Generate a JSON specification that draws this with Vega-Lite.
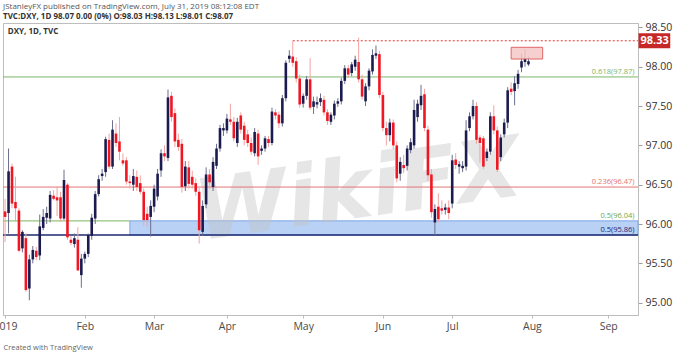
{
  "$schema": "https://vega.github.io/schema/vega-lite/v6.json",
  "autosize": {"type": "none"},
  "width": 635,
  "height": 292,
  "padding": {"left": 3, "top": 23, "right": 41, "bottom": 40},
  "background": "white",
  "config": {
    "view": {"stroke": "#bdbdbd", "strokeWidth": 1},
    "font": "Open Sans"
  },
  "title": {
    "text": "JStanleyFX published on TradingView.com, July 31, 2019 08:12:08 EDT",
    "subtitle": "TVC:DXY, 1D 98.07 0.00 (0%) O:98.03 H:98.13 L:98.01 C:98.07",
    "anchor": "start",
    "frame": "group",
    "offset": 1,
    "font": "Open Sans",
    "fontSize": 8,
    "fontWeight": "normal",
    "color": "#555555",
    "subtitleFont": "Open Sans",
    "subtitleFontSize": 8,
    "subtitleFontWeight": "bold",
    "subtitleColor": "#333333",
    "subtitlePadding": 2
  },
  "datasets": {
    "candles": [
      {"d":"2018-12-31","i":-1,"o":96.16,"h":96.32,"l":95.77,"c":96.09},
      {"d":"2019-01-02","i":0,"o":96.14,"h":96.96,"l":95.88,"c":96.67},
      {"d":"2019-01-03","i":1,"o":96.73,"h":96.77,"l":96.20,"c":96.26},
      {"d":"2019-01-04","i":2,"o":96.28,"h":96.60,"l":96.03,"c":96.20},
      {"d":"2019-01-07","i":3,"o":96.17,"h":96.20,"l":95.64,"c":95.66},
      {"d":"2019-01-08","i":4,"o":95.69,"h":95.92,"l":95.64,"c":95.90},
      {"d":"2019-01-09","i":5,"o":95.82,"h":95.88,"l":95.14,"c":95.16},
      {"d":"2019-01-10","i":6,"o":95.18,"h":95.61,"l":95.03,"c":95.55},
      {"d":"2019-01-11","i":7,"o":95.55,"h":95.72,"l":95.50,"c":95.67},
      {"d":"2019-01-14","i":8,"o":95.66,"h":95.71,"l":95.54,"c":95.58},
      {"d":"2019-01-15","i":9,"o":95.60,"h":96.12,"l":95.54,"c":95.97},
      {"d":"2019-01-16","i":10,"o":95.95,"h":96.19,"l":95.92,"c":96.09},
      {"d":"2019-01-17","i":11,"o":96.08,"h":96.22,"l":96.00,"c":96.14},
      {"d":"2019-01-18","i":12,"o":96.07,"h":96.42,"l":96.02,"c":96.37},
      {"d":"2019-01-21","i":13,"o":96.36,"h":96.43,"l":96.30,"c":96.32},
      {"d":"2019-01-22","i":14,"o":96.34,"h":96.48,"l":96.10,"c":96.30},
      {"d":"2019-01-23","i":15,"o":96.34,"h":96.41,"l":96.03,"c":96.07},
      {"d":"2019-01-24","i":16,"o":96.07,"h":96.69,"l":96.05,"c":96.56},
      {"d":"2019-01-25","i":17,"o":96.50,"h":96.52,"l":95.80,"c":95.83},
      {"d":"2019-01-28","i":18,"o":95.80,"h":95.85,"l":95.73,"c":95.76},
      {"d":"2019-01-29","i":19,"o":95.745,"h":95.88,"l":95.70,"c":95.82},
      {"d":"2019-01-30","i":20,"o":95.80,"h":95.96,"l":95.40,"c":95.41},
      {"d":"2019-01-31","i":21,"o":95.35,"h":95.62,"l":95.19,"c":95.56},
      {"d":"2019-02-01","i":22,"o":95.56,"h":95.65,"l":95.50,"c":95.62},
      {"d":"2019-02-04","i":23,"o":95.62,"h":95.88,"l":95.58,"c":95.86},
      {"d":"2019-02-05","i":24,"o":95.85,"h":96.13,"l":95.80,"c":96.08},
      {"d":"2019-02-06","i":25,"o":96.07,"h":96.42,"l":96.00,"c":96.38},
      {"d":"2019-02-07","i":26,"o":96.38,"h":96.62,"l":96.35,"c":96.57},
      {"d":"2019-02-08","i":27,"o":96.61,"h":96.70,"l":96.55,"c":96.64},
      {"d":"2019-02-11","i":28,"o":96.66,"h":97.11,"l":96.60,"c":97.08},
      {"d":"2019-02-12","i":29,"o":97.07,"h":97.15,"l":96.70,"c":96.73},
      {"d":"2019-02-13","i":30,"o":96.73,"h":97.32,"l":96.70,"c":97.20},
      {"d":"2019-02-14","i":31,"o":97.15,"h":97.28,"l":96.98,"c":97.03},
      {"d":"2019-02-15","i":32,"o":97.05,"h":97.36,"l":96.81,"c":96.92},
      {"d":"2019-02-18","i":33,"o":96.81,"h":96.90,"l":96.74,"c":96.77},
      {"d":"2019-02-19","i":34,"o":96.81,"h":96.85,"l":96.50,"c":96.54},
      {"d":"2019-02-20","i":35,"o":96.54,"h":96.62,"l":96.45,"c":96.52},
      {"d":"2019-02-21","i":36,"o":96.50,"h":96.70,"l":96.42,"c":96.61},
      {"d":"2019-02-22","i":37,"o":96.60,"h":96.68,"l":96.42,"c":96.47},
      {"d":"2019-02-25","i":38,"o":96.52,"h":96.62,"l":96.38,"c":96.41},
      {"d":"2019-02-26","i":39,"o":96.41,"h":96.45,"l":95.98,"c":96.05},
      {"d":"2019-02-27","i":40,"o":96.13,"h":96.22,"l":95.96,"c":96.05},
      {"d":"2019-02-28","i":41,"o":96.09,"h":96.30,"l":95.84,"c":96.23},
      {"d":"2019-03-01","i":42,"o":96.22,"h":96.50,"l":96.15,"c":96.45},
      {"d":"2019-03-04","i":43,"o":96.35,"h":96.70,"l":96.30,"c":96.64},
      {"d":"2019-03-05","i":44,"o":96.68,"h":96.95,"l":96.60,"c":96.90},
      {"d":"2019-03-06","i":45,"o":96.90,"h":97.00,"l":96.80,"c":96.86},
      {"d":"2019-03-07","i":46,"o":96.84,"h":97.71,"l":96.80,"c":97.61},
      {"d":"2019-03-08","i":47,"o":97.63,"h":97.68,"l":97.30,"c":97.36},
      {"d":"2019-03-11","i":48,"o":97.41,"h":97.47,"l":96.98,"c":97.05},
      {"d":"2019-03-12","i":49,"o":97.07,"h":97.15,"l":96.93,"c":96.98},
      {"d":"2019-03-13","i":50,"o":97.02,"h":97.08,"l":96.40,"c":96.47},
      {"d":"2019-03-14","i":51,"o":96.48,"h":96.80,"l":96.42,"c":96.73},
      {"d":"2019-03-15","i":52,"o":96.72,"h":96.80,"l":96.45,"c":96.51},
      {"d":"2019-03-18","i":53,"o":96.60,"h":96.68,"l":96.45,"c":96.50},
      {"d":"2019-03-19","i":54,"o":96.52,"h":96.58,"l":96.36,"c":96.41},
      {"d":"2019-03-20","i":55,"o":96.41,"h":96.47,"l":95.75,"c":95.92},
      {"d":"2019-03-21","i":56,"o":95.90,"h":96.30,"l":95.85,"c":96.23},
      {"d":"2019-03-22","i":57,"o":96.25,"h":96.72,"l":96.20,"c":96.63},
      {"d":"2019-03-25","i":58,"o":96.63,"h":96.70,"l":96.45,"c":96.53},
      {"d":"2019-03-26","i":59,"o":96.47,"h":96.85,"l":96.42,"c":96.79},
      {"d":"2019-03-27","i":60,"o":96.74,"h":97.02,"l":96.70,"c":96.96},
      {"d":"2019-03-28","i":61,"o":96.96,"h":97.26,"l":96.92,"c":97.22},
      {"d":"2019-03-29","i":62,"o":97.19,"h":97.28,"l":97.12,"c":97.22},
      {"d":"2019-04-01","i":63,"o":97.19,"h":97.40,"l":97.15,"c":97.34},
      {"d":"2019-04-02","i":64,"o":97.33,"h":97.53,"l":97.26,"c":97.30},
      {"d":"2019-04-03","i":65,"o":97.30,"h":97.36,"l":97.05,"c":97.09},
      {"d":"2019-04-04","i":66,"o":97.03,"h":97.35,"l":96.98,"c":97.30},
      {"d":"2019-04-05","i":67,"o":97.38,"h":97.42,"l":97.15,"c":97.20},
      {"d":"2019-04-08","i":68,"o":97.25,"h":97.30,"l":97.00,"c":97.07},
      {"d":"2019-04-09","i":69,"o":97.14,"h":97.20,"l":96.98,"c":97.03},
      {"d":"2019-04-10","i":70,"o":97.03,"h":97.10,"l":96.88,"c":96.92},
      {"d":"2019-04-11","i":71,"o":96.90,"h":97.22,"l":96.86,"c":97.17},
      {"d":"2019-04-12","i":72,"o":97.15,"h":97.20,"l":96.75,"c":96.86},
      {"d":"2019-04-15","i":73,"o":96.93,"h":97.00,"l":96.88,"c":96.96},
      {"d":"2019-04-16","i":74,"o":96.96,"h":97.12,"l":96.92,"c":97.09},
      {"d":"2019-04-17","i":75,"o":97.08,"h":97.12,"l":96.98,"c":97.03},
      {"d":"2019-04-18","i":76,"o":97.03,"h":97.48,"l":97.00,"c":97.43},
      {"d":"2019-04-19","i":77,"o":97.42,"h":97.46,"l":97.33,"c":97.38},
      {"d":"2019-04-22","i":78,"o":97.39,"h":97.43,"l":97.22,"c":97.28},
      {"d":"2019-04-23","i":79,"o":97.28,"h":97.64,"l":97.24,"c":97.60},
      {"d":"2019-04-24","i":80,"o":97.60,"h":98.08,"l":97.56,"c":98.05},
      {"d":"2019-04-25","i":81,"o":98.10,"h":98.21,"l":98.05,"c":98.14},
      {"d":"2019-04-26","i":82,"o":98.13,"h":98.33,"l":98.00,"c":98.05},
      {"d":"2019-04-29","i":83,"o":98.07,"h":98.12,"l":97.80,"c":97.85},
      {"d":"2019-04-30","i":84,"o":97.85,"h":97.90,"l":97.48,"c":97.52},
      {"d":"2019-05-01","i":85,"o":97.53,"h":97.66,"l":97.48,"c":97.63},
      {"d":"2019-05-02","i":86,"o":97.63,"h":97.88,"l":97.58,"c":97.84},
      {"d":"2019-05-03","i":87,"o":97.84,"h":98.11,"l":97.45,"c":97.48},
      {"d":"2019-05-06","i":88,"o":97.49,"h":97.62,"l":97.40,"c":97.56},
      {"d":"2019-05-07","i":89,"o":97.52,"h":97.62,"l":97.47,"c":97.55},
      {"d":"2019-05-08","i":90,"o":97.55,"h":97.66,"l":97.50,"c":97.60},
      {"d":"2019-05-09","i":91,"o":97.58,"h":97.63,"l":97.38,"c":97.42},
      {"d":"2019-05-10","i":92,"o":97.42,"h":97.46,"l":97.26,"c":97.31},
      {"d":"2019-05-13","i":93,"o":97.30,"h":97.42,"l":97.26,"c":97.39},
      {"d":"2019-05-14","i":94,"o":97.38,"h":97.57,"l":97.33,"c":97.53},
      {"d":"2019-05-15","i":95,"o":97.53,"h":97.60,"l":97.49,"c":97.56},
      {"d":"2019-05-16","i":96,"o":97.56,"h":97.86,"l":97.52,"c":97.82},
      {"d":"2019-05-17","i":97,"o":97.82,"h":98.02,"l":97.78,"c":97.98},
      {"d":"2019-05-20","i":98,"o":97.98,"h":98.02,"l":97.86,"c":97.90},
      {"d":"2019-05-21","i":99,"o":97.92,"h":98.06,"l":97.88,"c":98.03},
      {"d":"2019-05-22","i":100,"o":98.00,"h":98.14,"l":97.95,"c":98.09},
      {"d":"2019-05-23","i":101,"o":98.06,"h":98.37,"l":97.80,"c":97.84},
      {"d":"2019-05-24","i":102,"o":97.84,"h":97.90,"l":97.58,"c":97.62},
      {"d":"2019-05-27","i":103,"o":97.56,"h":97.79,"l":97.50,"c":97.75},
      {"d":"2019-05-28","i":104,"o":97.75,"h":97.98,"l":97.70,"c":97.95},
      {"d":"2019-05-29","i":105,"o":97.94,"h":98.22,"l":97.90,"c":98.15},
      {"d":"2019-05-30","i":106,"o":98.14,"h":98.27,"l":98.10,"c":98.17},
      {"d":"2019-05-31","i":107,"o":98.16,"h":98.20,"l":97.60,"c":97.64},
      {"d":"2019-06-03","i":108,"o":97.64,"h":97.68,"l":97.18,"c":97.22},
      {"d":"2019-06-04","i":109,"o":97.22,"h":97.30,"l":97.00,"c":97.13},
      {"d":"2019-06-05","i":110,"o":97.13,"h":97.34,"l":97.05,"c":97.29},
      {"d":"2019-06-06","i":111,"o":97.29,"h":97.33,"l":96.95,"c":97.00},
      {"d":"2019-06-07","i":112,"o":97.00,"h":97.05,"l":96.53,"c":96.58},
      {"d":"2019-06-10","i":113,"o":96.64,"h":96.85,"l":96.55,"c":96.79},
      {"d":"2019-06-11","i":114,"o":96.75,"h":96.88,"l":96.65,"c":96.71},
      {"d":"2019-06-12","i":115,"o":96.74,"h":97.00,"l":96.68,"c":96.96},
      {"d":"2019-06-13","i":116,"o":96.94,"h":97.09,"l":96.90,"c":97.04},
      {"d":"2019-06-14","i":117,"o":97.00,"h":97.58,"l":96.96,"c":97.45},
      {"d":"2019-06-17","i":118,"o":97.36,"h":97.58,"l":97.30,"c":97.53},
      {"d":"2019-06-18","i":119,"o":97.51,"h":97.77,"l":97.45,"c":97.63},
      {"d":"2019-06-19","i":120,"o":97.65,"h":97.72,"l":97.18,"c":97.22},
      {"d":"2019-06-20","i":121,"o":97.20,"h":97.25,"l":96.55,"c":96.62},
      {"d":"2019-06-21","i":122,"o":96.63,"h":96.70,"l":96.08,"c":96.15},
      {"d":"2019-06-24","i":123,"o":96.02,"h":96.25,"l":95.86,"c":96.19},
      {"d":"2019-06-25","i":124,"o":96.22,"h":96.39,"l":96.02,"c":96.06},
      {"d":"2019-06-26","i":125,"o":96.20,"h":96.30,"l":96.12,"c":96.17},
      {"d":"2019-06-27","i":126,"o":96.18,"h":96.26,"l":96.12,"c":96.21},
      {"d":"2019-06-28","i":127,"o":96.21,"h":96.30,"l":96.06,"c":96.14},
      {"d":"2019-07-01","i":128,"o":96.26,"h":96.88,"l":96.20,"c":96.81},
      {"d":"2019-07-02","i":129,"o":96.82,"h":96.90,"l":96.70,"c":96.75},
      {"d":"2019-07-03","i":130,"o":96.73,"h":96.80,"l":96.64,"c":96.76},
      {"d":"2019-07-04","i":131,"o":96.71,"h":96.80,"l":96.66,"c":96.74},
      {"d":"2019-07-05","i":132,"o":96.73,"h":97.32,"l":96.68,"c":97.19},
      {"d":"2019-07-08","i":133,"o":97.22,"h":97.42,"l":97.18,"c":97.37},
      {"d":"2019-07-09","i":134,"o":97.37,"h":97.58,"l":97.33,"c":97.50},
      {"d":"2019-07-10","i":135,"o":97.50,"h":97.55,"l":97.02,"c":97.07},
      {"d":"2019-07-11","i":136,"o":97.10,"h":97.13,"l":96.78,"c":97.03},
      {"d":"2019-07-12","i":137,"o":97.09,"h":97.12,"l":96.70,"c":96.73},
      {"d":"2019-07-15","i":138,"o":96.84,"h":96.96,"l":96.80,"c":96.92},
      {"d":"2019-07-16","i":139,"o":96.92,"h":97.42,"l":96.88,"c":97.37},
      {"d":"2019-07-17","i":140,"o":97.37,"h":97.51,"l":97.14,"c":97.19},
      {"d":"2019-07-18","i":141,"o":97.19,"h":97.24,"l":96.66,"c":96.69},
      {"d":"2019-07-19","i":142,"o":96.85,"h":97.14,"l":96.80,"c":97.10},
      {"d":"2019-07-22","i":143,"o":97.14,"h":97.34,"l":97.10,"c":97.29},
      {"d":"2019-07-23","i":144,"o":97.29,"h":97.74,"l":97.22,"c":97.70},
      {"d":"2019-07-24","i":145,"o":97.72,"h":97.80,"l":97.64,"c":97.68},
      {"d":"2019-07-25","i":146,"o":97.69,"h":97.88,"l":97.51,"c":97.79},
      {"d":"2019-07-26","i":147,"o":97.78,"h":97.96,"l":97.72,"c":97.91},
      {"d":"2019-07-29","i":148,"o":97.99,"h":98.17,"l":97.93,"c":98.07},
      {"d":"2019-07-30","i":149,"o":98.06,"h":98.22,"l":98.00,"c":98.11},
      {"d":"2019-07-31","i":150,"o":98.03,"h":98.13,"l":98.01,"c":98.07}
    ]
  },
  "layer": [
    {
      "data": {"values": [{"zone": "0.5 zone", "start": 35, "top": 96.04, "bottom": 95.86}]},
      "mark": {"type": "rect", "fill": "#a8c6f3", "fillOpacity": 0.8, "stroke": "#7ea7e6", "strokeWidth": 1},
      "encoding": {
        "x": {
          "field": "start",
          "type": "quantitative",
          "scale": {"domain": [-1.6, 181.6], "nice": false, "zero": false},
          "axis": {
            "orient": "bottom",
            "values": [-1, 22, 42, 63, 85, 108, 128, 151, 173],
            "labelExpr": "datum.value == -1 ? '2019' : datum.value == 22 ? 'Feb' : datum.value == 42 ? 'Mar' : datum.value == 63 ? 'Apr' : datum.value == 85 ? 'May' : datum.value == 108 ? 'Jun' : datum.value == 128 ? 'Jul' : datum.value == 151 ? 'Aug' : 'Sep'",
            "grid": false,
            "domainColor": "#bdbdbd",
            "tickColor": "#bdbdbd",
            "tickSize": 3,
            "labelPadding": 3,
            "labelFont": "Open Sans",
            "labelFontSize": 10.5,
            "labelColor": "#4a4a4a",
            "labelFlush": false,
            "labelOverlap": false,
            "title": "Created with TradingView",
            "titleAnchor": "start",
            "titleAlign": "left",
            "titleFont": "Open Sans",
            "titleFontSize": 7.5,
            "titleFontWeight": "normal",
            "titleColor": "#666666",
            "titlePadding": 12
          }
        },
        "x2": {"datum": 181.6},
        "y": {
          "field": "top",
          "type": "quantitative",
          "scale": {"domain": [94.843, 98.556], "nice": false, "zero": false},
          "axis": {
            "orient": "right",
            "values": [95, 95.5, 96, 96.5, 97, 97.5, 98, 98.5],
            "format": ".2f",
            "grid": false,
            "domainColor": "#bdbdbd",
            "tickColor": "#9e9e9e",
            "tickSize": 4,
            "labelPadding": 3,
            "labelFont": "Open Sans",
            "labelFontSize": 10.5,
            "labelColor": "#333333",
            "title": null
          }
        },
        "y2": {"field": "bottom"}
      }
    },
    {
      "data": {"values": [{"wm": "WikiFX"}]},
      "mark": {"type": "text", "font": "DejaVu Sans", "fontSize": 84, "fontWeight": "bold", "fontStyle": "italic", "color": "#c4c4c4", "opacity": 0.42, "angle": -8, "align": "center", "baseline": "middle"},
      "encoding": {
        "x": {"datum": 101, "type": "quantitative"},
        "y": {"datum": 96.4, "type": "quantitative"},
        "text": {"field": "wm", "type": "nominal"}
      }
    },
    {
      "data": {"values": [
        {"level": "0.618", "p": 97.87},
        {"level": "0.236", "p": 96.47},
        {"level": "0.5 low", "p": 95.86}
      ]},
      "mark": {"type": "rule"},
      "encoding": {
        "x": {"datum": -1.6, "type": "quantitative"},
        "x2": {"datum": 181.6},
        "y": {"field": "p", "type": "quantitative"},
        "color": {"field": "level", "type": "nominal", "legend": null,
          "scale": {"domain": ["0.618", "0.236", "0.5 high", "0.5 low"], "range": ["#7cb46a", "#e57373", "#6aa84f", "#1f2870"]}},
        "strokeWidth": {"condition": {"test": "datum.level == '0.5 low'", "value": 1.6}, "value": 1}
      }
    },
    {
      "data": {"values": [{"level": "0.5 high", "p": 96.04, "start": -1.6, "end": 35}]},
      "mark": {"type": "rule", "strokeWidth": 1.2, "color": "#93c47d"},
      "encoding": {
        "x": {"field": "start", "type": "quantitative"},
        "x2": {"field": "end"},
        "y": {"field": "p", "type": "quantitative"}
      }
    },
    {
      "data": {"values": [{"level": "high", "start": 82, "p": 98.33}]},
      "mark": {"type": "rule", "color": "#e53935", "strokeWidth": 1, "strokeDash": [2, 2]},
      "encoding": {
        "x": {"field": "start", "type": "quantitative"},
        "x2": {"datum": 181.6},
        "y": {"field": "p", "type": "quantitative"}
      }
    },
    {
      "data": {"name": "candles"},
      "mark": {"type": "rule", "strokeWidth": 1},
      "encoding": {
        "x": {"field": "i", "type": "quantitative"},
        "y": {"field": "l", "type": "quantitative"},
        "y2": {"field": "h"},
        "color": {"condition": {"test": "datum.c >= datum.o", "value": "#6c6f8c"}, "value": "#f3a3a3"}
      }
    },
    {
      "data": {"name": "candles"},
      "mark": {"type": "rule", "strokeWidth": 2.6, "strokeCap": "butt"},
      "encoding": {
        "x": {"field": "i", "type": "quantitative"},
        "y": {"field": "o", "type": "quantitative"},
        "y2": {"field": "c"},
        "color": {"condition": {"test": "datum.c >= datum.o", "value": "#1b1b50"}, "value": "#f01622"}
      }
    },
    {
      "data": {"values": [{"zone": "target", "i0": 145, "i1": 154.1, "p0": 98.098, "p1": 98.247}]},
      "mark": {"type": "rect", "fill": "#f4c7c7", "fillOpacity": 0.85, "stroke": "#e06666", "strokeWidth": 1},
      "encoding": {
        "x": {"field": "i0", "type": "quantitative"},
        "x2": {"field": "i1"},
        "y": {"field": "p0", "type": "quantitative"},
        "y2": {"field": "p1"}
      }
    },
    {
      "data": {"values": [
        {"level": "0.618", "p": 97.87, "label": "0.618(97.87)"},
        {"level": "0.236", "p": 96.47, "label": "0.236(96.47)"},
        {"level": "0.5 high", "p": 96.04, "label": "0.5(96.04)"},
        {"level": "0.5 low", "p": 95.86, "label": "0.5(95.86)"}
      ]},
      "mark": {"type": "text", "align": "right", "baseline": "bottom", "dy": -1, "fontSize": 7.5, "font": "Open Sans"},
      "encoding": {
        "x": {"datum": 180.6, "type": "quantitative"},
        "y": {"field": "p", "type": "quantitative"},
        "text": {"field": "label", "type": "nominal"},
        "color": {"field": "level", "type": "nominal", "legend": null}
      }
    },
    {
      "data": {"values": [{"p": 98.33, "label": "98.33"}]},
      "mark": {"type": "rect", "fill": "#c62828"},
      "encoding": {
        "x": {"datum": 181.75, "type": "quantitative"},
        "x2": {"datum": 190.9},
        "y": {"datum": 98.425, "type": "quantitative"},
        "y2": {"datum": 98.234}
      }
    },
    {
      "data": {"values": [{"p": 98.33, "label": "98.33"}]},
      "mark": {"type": "text", "color": "white", "fontWeight": "bold", "fontSize": 11, "font": "Open Sans", "align": "center", "baseline": "middle"},
      "encoding": {
        "x": {"datum": 186.4, "type": "quantitative"},
        "y": {"field": "p", "type": "quantitative"},
        "text": {"field": "label", "type": "nominal"}
      }
    },
    {
      "data": {"values": [{"label": "DXY, 1D, TVC"}]},
      "mark": {"type": "text", "align": "left", "baseline": "middle", "fontSize": 8, "fontWeight": "bold", "font": "Open Sans", "color": "#333333"},
      "encoding": {
        "x": {"datum": -0.2, "type": "quantitative"},
        "y": {"datum": 98.44, "type": "quantitative"},
        "text": {"field": "label", "type": "nominal"}
      }
    }
  ]
}
